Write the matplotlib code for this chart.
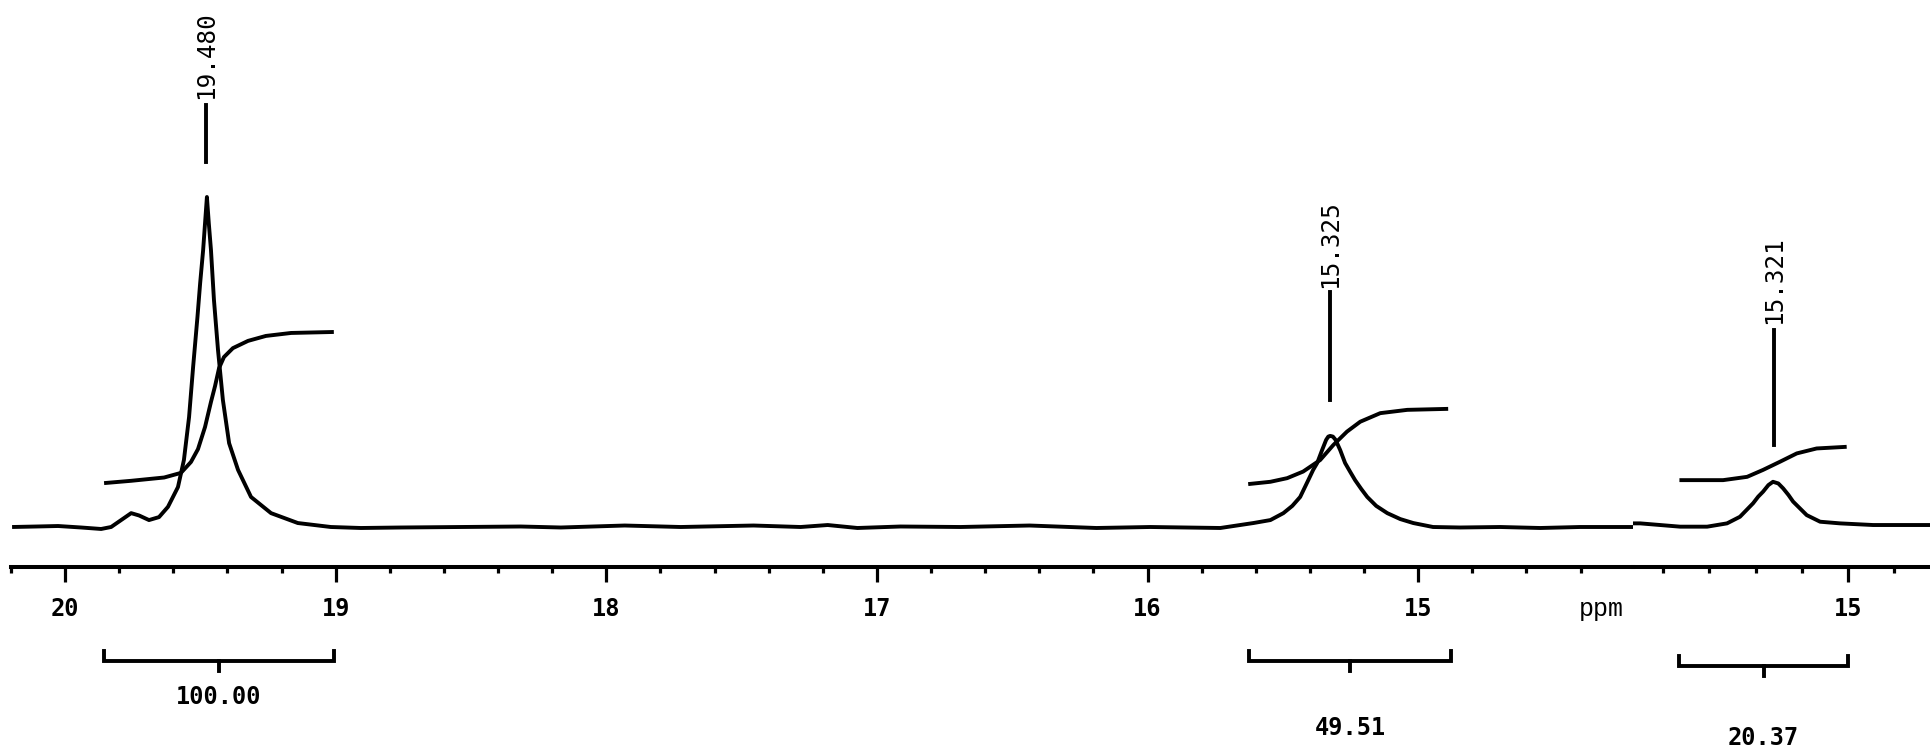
import matplotlib
matplotlib.use("Agg")
import matplotlib.pyplot as plt
import numpy as np

# ---------------- data (ppm, relative intensity; tallest peak = 100) ----------------
# main spectrum 20.2 -> 14.2 ppm
spec_main_ppm = [20.196, 20.107, 20.026, 19.941, 19.867, 19.830, 19.793, 19.756, 19.727, 19.690,
                 19.653, 19.620, 19.583, 19.561, 19.542, 19.527, 19.511, 19.501, 19.490, 19.483,
                 19.476, 19.469, 19.461, 19.450, 19.435, 19.417, 19.394, 19.361, 19.313, 19.239,
                 19.140, 19.018, 18.907, 18.759, 18.538, 18.316, 18.168, 17.932, 17.725, 17.456,
                 17.282, 17.182, 17.072, 16.913, 16.691, 16.436, 16.189, 15.990, 15.731, 15.609,
                 15.546, 15.498, 15.465, 15.436, 15.406, 15.388, 15.373, 15.355, 15.340, 15.332,
                 15.325, 15.315, 15.305, 15.288, 15.270, 15.251, 15.233, 15.210, 15.188, 15.155,
                 15.114, 15.066, 15.018, 14.945, 14.845, 14.697, 14.549, 14.402, 14.206]
spec_main_int = [0.0, 0.15, 0.3, -0.15, -0.6, 0.0, 2.1, 4.2, 3.5, 2.1,
                 3.0, 6.1, 12.1, 20.3, 33.3, 48.5, 63.6, 73.9, 83.9, 92.0,
                 100.0, 92.0, 83.9, 68.8, 53.6, 38.5, 25.4, 17.3, 9.1, 4.2,
                 1.2, 0.0, -0.3, -0.15, 0.0, 0.15, -0.15, 0.45, 0.0, 0.45,
                 0.0, 0.6, -0.3, 0.15, 0.0, 0.45, -0.3, 0.0, -0.3, 1.2,
                 2.1, 4.2, 6.4, 9.1, 14.2, 17.3, 19.4, 23.3, 26.4, 27.4,
                 27.6, 27.4, 26.4, 23.3, 19.4, 16.7, 14.2, 11.5, 9.1, 6.4,
                 4.2, 2.4, 1.2, 0.0, -0.15, 0.0, -0.3, 0.0, 0.0]

integral1_ppm = [19.856, 19.756, 19.634, 19.572, 19.535, 19.509, 19.483, 19.461, 19.446, 19.431,
                 19.413, 19.380, 19.324, 19.258, 19.165, 19.007]
integral1_val = [13.3, 14.0, 15.0, 16.4, 19.7, 23.6, 30.3, 37.9, 42.7, 48.2,
                 51.5, 54.2, 56.4, 57.9, 58.8, 59.1]

integral2_ppm = [15.628, 15.546, 15.484, 15.425, 15.362, 15.314, 15.263, 15.214, 15.140, 15.040, 14.889]
integral2_val = [13.0, 13.7, 14.8, 16.8, 20.3, 24.8, 28.9, 31.9, 34.5, 35.5, 35.8]

# second (inset) spectrum 15.93 -> 14.64 ppm
spec_inset_ppm = [15.931, 15.900, 15.727, 15.610, 15.524, 15.468, 15.411, 15.389, 15.368, 15.345,
                  15.325, 15.302, 15.281, 15.258, 15.238, 15.179, 15.121, 15.035, 14.892, 14.688, 14.641]
spec_inset_int = [1.1, 1.1, 0.1, 0.1, 1.1, 3.1, 7.2, 9.2, 10.7, 12.7,
                  13.7, 13.2, 11.7, 9.7, 7.7, 3.6, 1.6, 1.1, 0.6, 0.6, 0.6]

integral3_ppm = [15.730, 15.541, 15.437, 15.368, 15.294, 15.222, 15.136, 15.006]
integral3_val = [14.2, 14.2, 15.2, 17.3, 19.8, 22.3, 23.8, 24.3]

# peak picks
peaks_main = [19.480, 15.325]
peak_labels_main = ["19.480", "15.325"]
peaks_inset = [15.321]
peak_labels_inset = ["15.321"]

# integration regions and values
int_regions_main = [(19.856, 19.007), (15.624, 14.878)]
int_values_main = ["100.00", "49.51"]
int_regions_inset = [(15.732, 15.000)]
int_values_inset = ["20.37"]

# axis ticks
major_main = [20, 19, 18, 17, 16, 15]
major_inset = [15]

# ---------------- layout ----------------
W, H = 1931, 756
BASE = 527.0      # pixel row of the spectrum baseline
SPINE = 567.0     # pixel row of the ppm axis
PXU = 3.3         # pixels per intensity unit


def Y(py):
    return (BASE - py) / PXU


fig = plt.figure(figsize=(W / 100, H / 100), dpi=100)
fig.patch.set_facecolor("white")
bottom = (H - SPINE) / H
ax1 = fig.add_axes([11 / W, bottom, (1633 - 11) / W, SPINE / H])
ax2 = fig.add_axes([1633 / W, bottom, (W - 1633) / W, SPINE / H])

LW = 2.8
mono = "DejaVu Sans Mono"

for ax, xl in ((ax1, (20.196, 14.206)), (ax2, (15.931, 14.641))):
    ax.set_facecolor("none")
    ax.set_xlim(*xl)
    ax.set_ylim(Y(SPINE), Y(0))
    for s in ("top", "left", "right"):
        ax.spines[s].set_visible(False)
    ax.spines["bottom"].set_linewidth(2.9)
    ax.yaxis.set_visible(False)
    ax.tick_params(axis="x", which="major", length=10.8, width=2.3, pad=10.5,
                   labelsize=17, direction="out")
    ax.tick_params(axis="x", which="minor", length=4.3, width=2.3, direction="out")

# ticks
ax1.set_xticks(major_main)
ax1.set_xticklabels([str(t) for t in major_main], fontfamily=mono, fontweight="bold")
minor_main = [round(v, 1) for v in np.arange(20.2, 14.3, -0.2) if abs(v - round(v)) > 1e-6]
ax1.set_xticks(minor_main, minor=True)
ax2.set_xticks(major_inset)
ax2.set_xticklabels([str(t) for t in major_inset], fontfamily=mono, fontweight="bold")
ax2.set_xticks([15.8, 15.6, 15.4, 15.2, 14.8], minor=True)

ax1.annotate("ppm", xy=(14.324, 0), xycoords=ax1.get_xaxis_transform(),
             xytext=(0, -(609 - SPINE)), textcoords="offset pixels",
             ha="center", va="center", fontsize=18, fontfamily="Liberation Mono")

# spectra and integrals
kw = dict(color="black", lw=LW, solid_joinstyle="round", solid_capstyle="butt")
ax1.plot(spec_main_ppm, spec_main_int, **kw)
ax1.plot(integral1_ppm, integral1_val, **kw)
ax1.plot(integral2_ppm, integral2_val, **kw)
ax2.plot(spec_inset_ppm, spec_inset_int, **kw)
ax2.plot(integral3_ppm, integral3_val, **kw)

# peak labels: (line bottom px, line top px, text bottom px)
peak_geom_main = [(162, 105, 99), (400, 292, 288)]
peak_geom_inset = [(445, 330, 324)]


def draw_peaks(ax, ppms, labels, geoms):
    for p, lab, (lo, hi, tb) in zip(ppms, labels, geoms):
        ax.plot([p, p], [Y(lo), Y(hi)], color="black", lw=LW, clip_on=False)
        ax.text(p, Y(tb), lab, rotation=90, ha="center", va="bottom",
                fontsize=17.5, fontfamily=mono, clip_on=False)


draw_peaks(ax1, peaks_main, peak_labels_main, peak_geom_main)
draw_peaks(ax2, peaks_inset, peak_labels_inset, peak_geom_inset)

# integration brackets: (bar px, text px)
br_main = [(661, 697), (661, 728)]
br_inset = [(666, 738)]


def draw_brackets(ax, regions, values, geoms):
    for (a, b), val, (bar, txt) in zip(regions, values, geoms):
        ax.plot([a, a, b, b], [Y(bar - 10), Y(bar), Y(bar), Y(bar - 10)],
                color="black", lw=LW, clip_on=False, solid_joinstyle="miter")
        m = (a + b) / 2
        ax.plot([m, m], [Y(bar), Y(bar + 10)], color="black", lw=LW, clip_on=False)
        ax.text(m, Y(txt), val, ha="center", va="center", fontsize=17,
                fontfamily=mono, fontweight="bold", clip_on=False)


draw_brackets(ax1, int_regions_main, int_values_main, br_main)
draw_brackets(ax2, int_regions_inset, int_values_inset, br_inset)

fig.savefig("out.png", dpi=100, facecolor="white")
